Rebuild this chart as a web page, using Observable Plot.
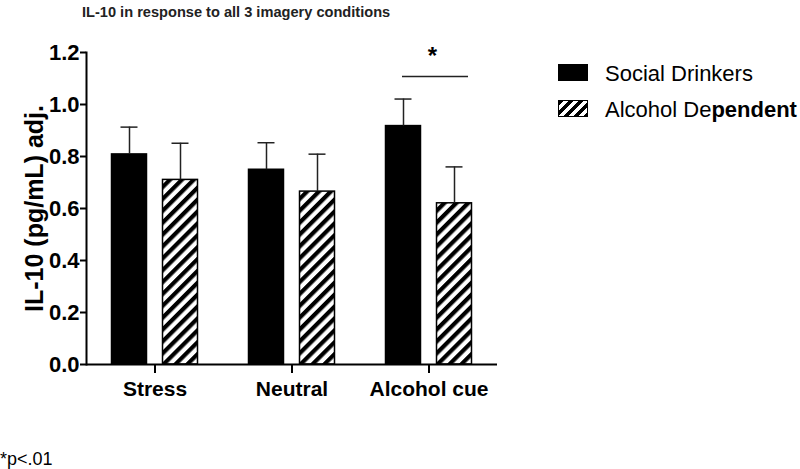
<!DOCTYPE html>
<html>
<head>
<meta charset="utf-8">
<script src="https://cdn.jsdelivr.net/npm/d3@7"></script>
<script src="https://cdn.jsdelivr.net/npm/@observablehq/plot@0.6"></script>
<style>
  html, body { margin: 0; padding: 0; background: #fff; }
  #wrap { position: relative; width: 800px; height: 469px; overflow: hidden;
          font-family: "Liberation Sans", Arial, sans-serif; color: #000; }
  #title { position: absolute; left: 82px; top: 5px; font-size: 14.6px; line-height: 15px;
           font-weight: bold; color: #222; white-space: nowrap; }
  #chart { position: absolute; left: 0; top: 26px; }
  .sw { position: absolute; left: 558px; width: 30px; height: 17px; box-sizing: border-box; }
  .sw.solid { background: #000; top: 64px; }
  .sw.hatch { top: 100px; border: 1.5px solid #000;
              background: repeating-linear-gradient(135deg, #000 0 3.5px, #fff 3.5px 7px); }
  .lab { position: absolute; left: 605px; font-size: 22px; line-height: 22px; white-space: nowrap; color: #000; }
  #note { position: absolute; left: 0; top: 450px; font-size: 18px; line-height: 18px; white-space: nowrap; color: #000; }
</style>
</head>
<body>
<div id="wrap">
  <div id="title">IL-10 in response to all 3 imagery conditions</div>
  <div id="chart"></div>
  <div class="sw solid"></div>
  <div class="lab" style="top:63px">Social Drinkers</div>
  <div class="sw hatch"></div>
  <div class="lab" style="top:99px">Alcohol De<b>pendent</b></div>
  <div id="note">*p&lt;.01</div>
</div>
<script>
const conditions = ["Stress", "Neutral", "Alcohol cue"];
const groups = ["Social Drinkers", "Alcohol Dependent"];
const socialMeans = [0.808, 0.749, 0.917];
const socialErrors = [0.105, 0.104, 0.104];
const dependentMeans = [0.710, 0.665, 0.620];
const dependentErrors = [0.141, 0.144, 0.140];
const yTicks = [0, 0.2, 0.4, 0.6, 0.8, 1.0, 1.2];
const yLabel = "IL-10 (pg/mL) adj.";
const sigConditions = ["Alcohol cue"];
const sigLevels = [1.108];
const sigLabels = ["*"];

const rows = [];
conditions.forEach((c, i) => {
  rows.push({condition: c, group: groups[0], mean: socialMeans[i], err: socialErrors[i]});
  rows.push({condition: c, group: groups[1], mean: dependentMeans[i], err: dependentErrors[i]});
});
const sig = sigConditions.map((c, i) => ({condition: c, y: sigLevels[i], label: sigLabels[i]}));

const svg = Plot.plot({
  width: 800,
  height: 420,
  marginTop: 26,
  marginBottom: 82,
  marginLeft: 86,
  marginRight: 303,
  style: {fontFamily: "Liberation Sans, Arial, sans-serif", color: "#000", background: "transparent", overflow: "visible"},
  fx: {domain: conditions, padding: 0, round: false, axis: null},
  x: {domain: groups, paddingInner: 0.314, paddingOuter: 0.5, round: false, axis: null},
  y: {domain: [0, 1.2], axis: null},
  marks: [
    Plot.barY(rows.filter(d => d.group === groups[0]), {fx: "condition", x: "group", y: "mean", fill: "#000", stroke: "#000", strokeWidth: 1.5}),
    Plot.barY(rows.filter(d => d.group === groups[1]), {fx: "condition", x: "group", y: "mean", fill: "url(#hatch)", stroke: "#000", strokeWidth: 1.5}),
    Plot.ruleX(rows, {fx: "condition", x: "group", y1: "mean", y2: d => d.mean + d.err, stroke: "#222", strokeWidth: 1.5}),
    Plot.tickY(rows, {fx: "condition", x: "group", y: d => d.mean + d.err, stroke: "#222", strokeWidth: 1.5, insetLeft: 9, insetRight: 9}),
    Plot.ruleY(sig, {fx: "condition", y: "y", stroke: "#222", strokeWidth: 1.5, insetLeft: 42, insetRight: 29}),
    Plot.text(sig, {fx: "condition", y: "y", text: "label", fontSize: 24, fontWeight: "bold", dx: 3.5, dy: -20}),
    Plot.ruleY([0], {stroke: "#000", strokeWidth: 2}),
    Plot.frame({anchor: "left", facetAnchor: "left", stroke: "#000", strokeWidth: 2}),
    Plot.axisY({ticks: yTicks, tickFormat: d3.format(".1f"), tickSize: 6, tickPadding: 1, fontSize: 22, fontWeight: "bold", strokeWidth: 2, label: null}),
    Plot.text([yLabel], {fx: () => conditions[0], text: d => d, frameAnchor: "left", textAnchor: "middle", rotate: -90, lineAnchor: "top", dx: -61, fontSize: 25, fontWeight: "bold"}),
    Plot.axisFx({anchor: "bottom", tickSize: 9, tickPadding: 8, fontSize: 21, fontWeight: "bold", strokeWidth: 2, label: null})
  ]
});

svg.insertAdjacentHTML("afterbegin",
  '<defs><pattern id="hatch" patternUnits="userSpaceOnUse" width="8.4" height="8.4" patternTransform="rotate(45)">' +
  '<rect width="8.4" height="8.4" fill="#fff"></rect><rect width="4.2" height="8.4" fill="#000"></rect></pattern></defs>');

document.getElementById("chart").appendChild(svg);
</script>
</body>
</html>
